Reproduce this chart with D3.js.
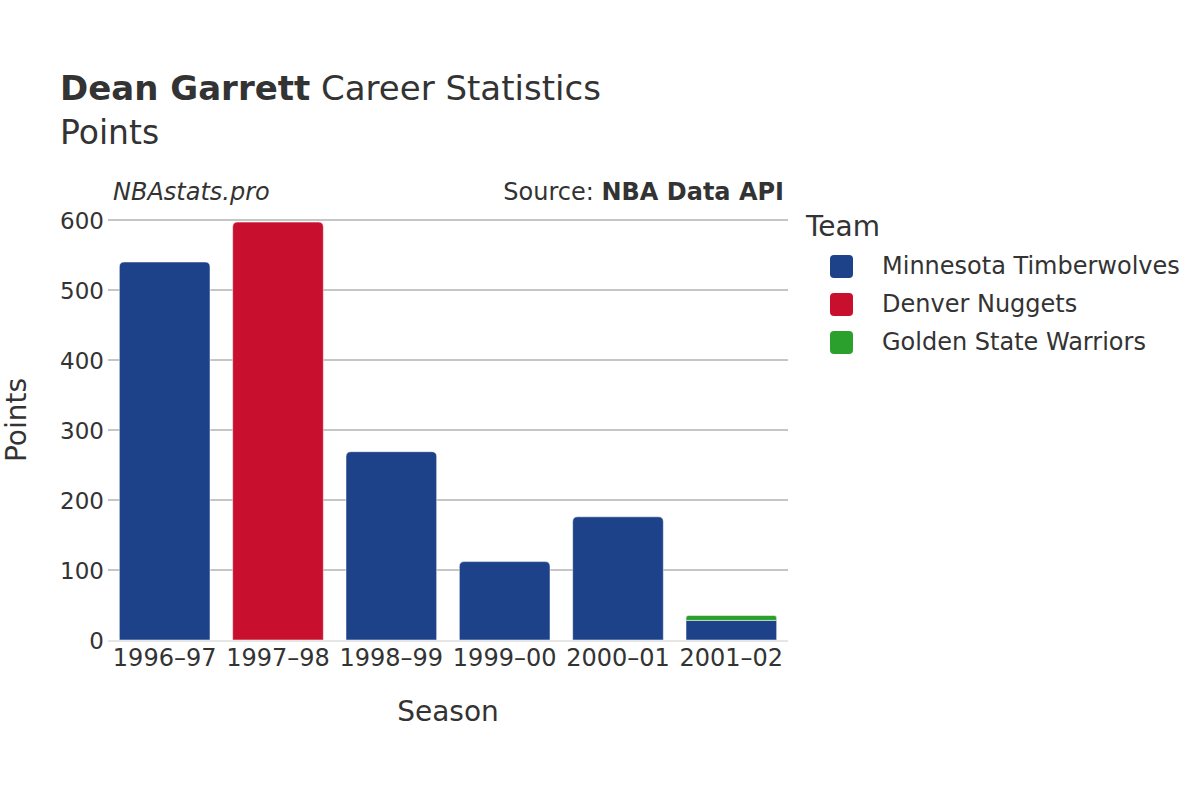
<!DOCTYPE html>
<html><head><meta charset="utf-8">
<script src="https://cdn.jsdelivr.net/npm/d3@7"></script>
<style>body{margin:0;background:#fff;} text{font-family:"DejaVu Sans",sans-serif;fill:#333;}</style>
</head><body><svg id="c" width="1200" height="800"></svg>
<script>
const seasons = ["1996–97","1997–98","1998–99","1999–00","2000–01","2001–02"];
const teams = ["Minnesota Timberwolves","Denver Nuggets","Golden State Warriors"];
const colors = ["#1d428a","#c8102e","#2ca02c"];
const timberwolves = [540, 0, 269, 112, 176, 28];
const nuggets = [0, 597, 0, 0, 0, 0];
const warriors = [0, 0, 0, 0, 0, 7];
const yTicks = [0,100,200,300,400,500,600];

const series = [timberwolves, nuggets, warriors];
const svg = d3.select("#c");
const m = {l:108, r:788, t:220, b:640};
const x = d3.scaleBand().domain(seasons).range([m.l, m.r]).paddingInner(0.2).paddingOuter(0.1);
const y = d3.scaleLinear().domain([0,600]).range([m.b, m.t]);

// grid
svg.append("g").selectAll("line").data(yTicks.filter(d=>d>0)).join("line")
  .attr("x1", m.l).attr("x2", m.r).attr("y1", d=>y(d)).attr("y2", d=>y(d))
  .attr("stroke","#8c8c8c").attr("stroke-width",1);

// bars (stacked)
const stacks = seasons.map((s,i)=>{let acc=0; return series.map((arr,k)=>{const v=arr[i]; const r={s,k,y0:acc,y1:acc+v}; acc+=v; return r;}).filter(r=>r.y1>r.y0);});
const rr = 5;
function barPath(x0,w,yTop,yBot,round){
  const r = Math.min(round?rr:0, (yBot-yTop)/2);
  return `M${x0},${yBot}L${x0},${yTop+r}Q${x0},${yTop} ${x0+r},${yTop}L${x0+w-r},${yTop}Q${x0+w},${yTop} ${x0+w},${yTop+r}L${x0+w},${yBot}Z`;
}
stacks.forEach(st=>{
  st.forEach((d,j)=>{
    const top = j===st.length-1;
    svg.append("path")
      .attr("d", barPath(x(d.s), x.bandwidth(), y(d.y1), y(d.y0), top))
      .attr("fill", colors[d.k]).attr("stroke","#fff").attr("stroke-width",0.5);
  });
});

// zero line
svg.append("line").attr("x1",m.l).attr("x2",m.r).attr("y1",y(0)+1).attr("y2",y(0)+1)
  .attr("stroke","#e6e6e6").attr("stroke-width",2);

// axes
const yAxis = svg.append("g").attr("transform",`translate(${m.l},0)`)
  .call(d3.axisLeft(y).tickValues(yTicks).tickSize(0).tickPadding(4));
yAxis.select(".domain").remove();
yAxis.selectAll("text").attr("font-size",23).style("fill","#333").attr("dy","0.35em");
const xAxis = svg.append("g").attr("transform",`translate(0,${m.b})`)
  .call(d3.axisBottom(x).tickSize(0).tickPadding(9));
xAxis.select(".domain").remove();
xAxis.selectAll("text").attr("font-size",24).style("fill","#333");

// titles
const t = svg.append("text").attr("x",60).attr("y",100).attr("font-size",34);
t.append("tspan").attr("font-weight","bold").text("Dean Garrett");
t.append("tspan").text(" Career Statistics");
svg.append("text").attr("x",60).attr("y",144).attr("font-size",33).text("Points");
svg.append("text").attr("x",113).attr("y",200).attr("font-size",24).attr("font-style","italic").text("NBAstats.pro");
const src = svg.append("text").attr("x",784).attr("y",200).attr("font-size",24).attr("text-anchor","end");
src.append("tspan").text("Source: ");
src.append("tspan").attr("font-weight","bold").text("NBA Data API");
svg.append("text").attr("x",448).attr("y",721).attr("font-size",28).attr("text-anchor","middle").text("Season");
svg.append("text").attr("transform","translate(26,420) rotate(-90)").attr("font-size",28).attr("text-anchor","middle").text("Points");

// legend
svg.append("text").attr("x",806).attr("y",236).attr("font-size",28).text("Team");
const lg = svg.append("g").selectAll("g").data(teams).join("g")
  .attr("transform",(d,i)=>`translate(830,${266+i*38})`);
lg.append("rect").attr("x",0).attr("y",-11).attr("width",23).attr("height",23).attr("rx",4)
  .attr("fill",(d,i)=>colors[i]);
lg.append("text").attr("x",52).attr("y",0).attr("dy","0.35em").attr("font-size",24).text(d=>d);
</script></body></html>
